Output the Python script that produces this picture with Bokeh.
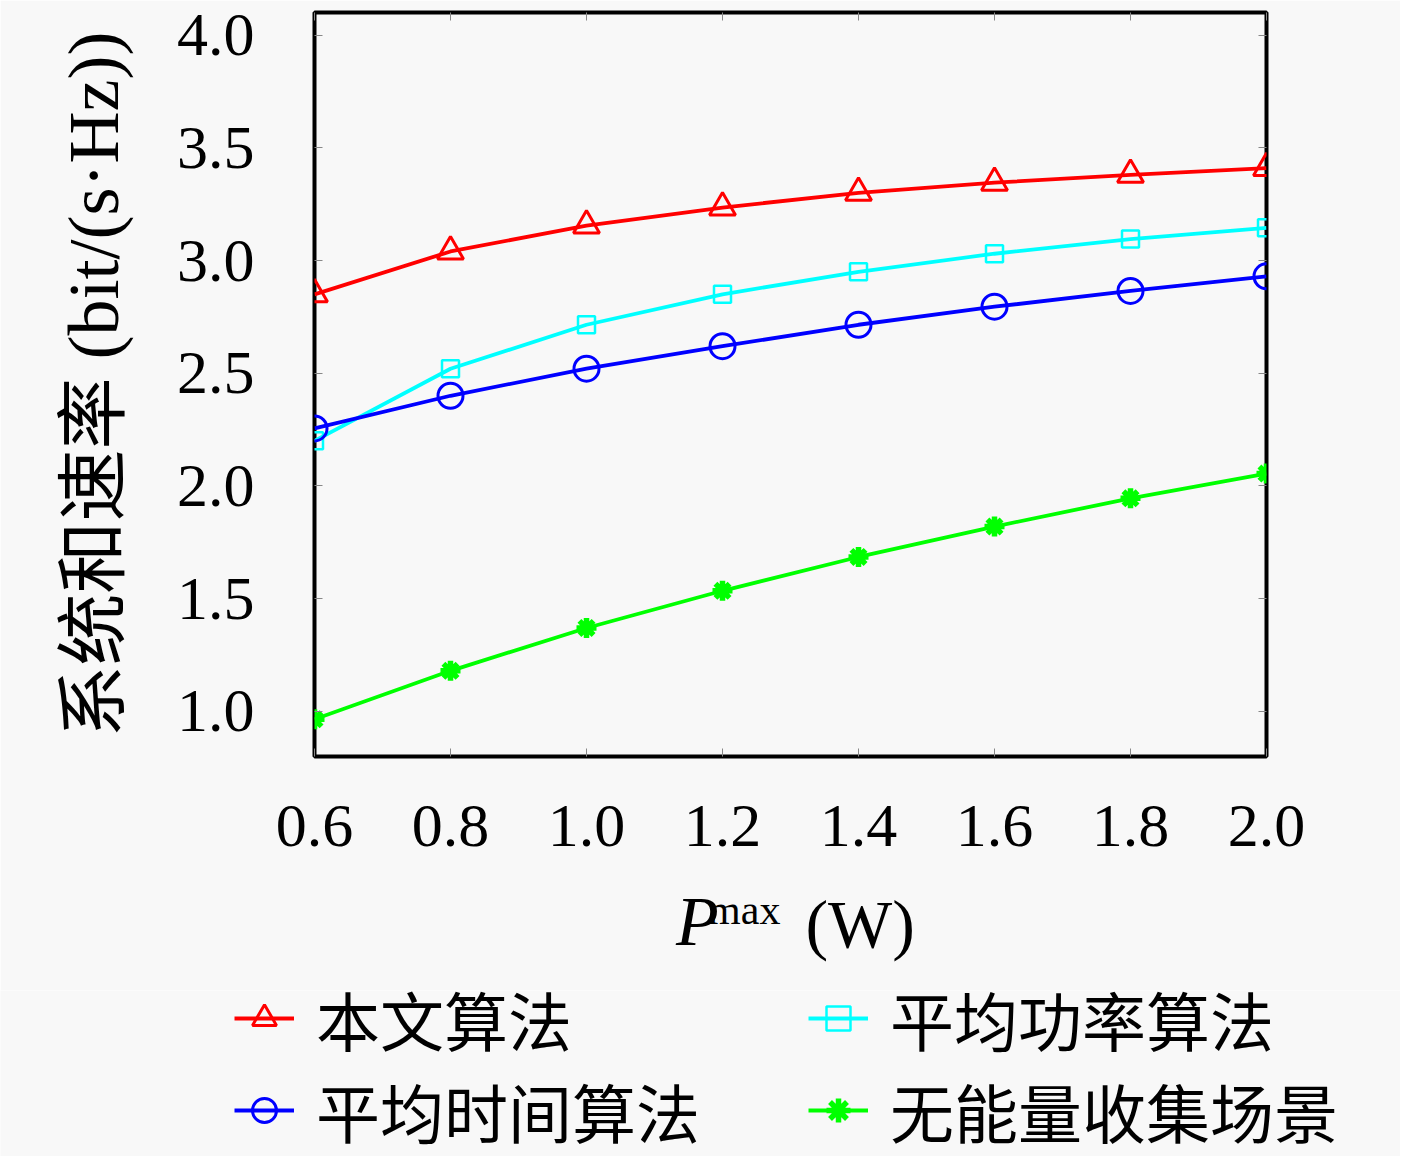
import math
from bokeh.plotting import figure
from bokeh.models import (Range1d, LinearAxis, FixedTicker, Legend, LegendItem,
                          PrintfTickFormatter)
from bokeh.embed import file_html
from bokeh.resources import INLINE

# ---- data ----
p_max = [0.6, 0.8, 1.0, 1.2, 1.4, 1.6, 1.8, 2.0]
proposed = [2.85, 3.04, 3.155, 3.235, 3.30, 3.345, 3.38, 3.41]
avg_power = [2.20, 2.52, 2.715, 2.85, 2.95, 3.03, 3.095, 3.145]
avg_time = [2.255, 2.40, 2.52, 2.62, 2.715, 2.795, 2.865, 2.93]
no_eh = [0.965, 1.18, 1.37, 1.535, 1.685, 1.82, 1.945, 2.055]

names = ["本文算法", "平均功率算法", "平均时间算法", "无能量收集场景"]
x_ticks = [0.6, 0.8, 1.0, 1.2, 1.4, 1.6, 1.8, 2.0]
y_ticks = [1.0, 1.5, 2.0, 2.5, 3.0, 3.5, 4.0]
y_label = "系统和速率 (bit/(s·Hz))"
x_label_parts = ["P", "max", "(W)"]

BG = "#f8f8f8"
SERIF = "Liberation Serif"
CJK = "Noto Sans CJK SC"
MIXED = "'Liberation Serif', 'Noto Sans CJK SC'"

p = figure(width=1400, height=990, output_backend="svg", toolbar_location=None,
           x_range=Range1d(0.6, 2.0), y_range=Range1d(0.8, 4.1),
           min_border_left=314, min_border_right=134, min_border_top=12,
           min_border_bottom=234)
p.background_fill_color = BG
p.border_fill_color = BG
p.outline_line_color = "black"
p.outline_line_width = 4
p.grid.visible = False

for ax in (p.xaxis[0], p.yaxis[0]):
    ax.axis_line_color = None
    ax.major_tick_in = 8
    ax.major_tick_out = 0
    ax.minor_tick_line_color = None
    ax.major_tick_line_color = "#888888"
    ax.major_label_text_font = SERIF
    ax.major_label_text_font_size = "62px"
    ax.major_label_text_color = "black"
    ax.formatter = PrintfTickFormatter(format="%.1f")
p.xaxis[0].ticker = FixedTicker(ticks=x_ticks)
p.yaxis[0].ticker = FixedTicker(ticks=y_ticks)
p.xaxis[0].major_label_standoff = 49
p.yaxis[0].major_label_standoff = 60
p.yaxis[0].axis_label = y_label
p.yaxis[0].axis_label_text_font = MIXED
p.yaxis[0].axis_label_text_font_size = "72px"
p.yaxis[0].axis_label_text_font_style = "normal"
p.yaxis[0].axis_label_text_color = "black"
p.yaxis[0].axis_label_standoff = 40

top = LinearAxis(ticker=FixedTicker(ticks=x_ticks), axis_line_color=None,
                 major_tick_in=8, major_tick_out=0, minor_tick_line_color=None,
                 major_tick_line_color="#888888", major_label_text_font_size="0px",
                 major_label_standoff=0)
right = LinearAxis(ticker=FixedTicker(ticks=y_ticks), axis_line_color=None,
                   major_tick_in=8, major_tick_out=0, minor_tick_line_color=None,
                   major_tick_line_color="#888888", major_label_text_font_size="0px",
                   major_label_standoff=0)
p.add_layout(top, "above")
p.add_layout(right, "right")

styles = [
    ("#ff0000", "triangle", 26, 3),
    ("#00ffff", "square", 17, 2.5),
    ("#0000ff", "circle", 25, 3),
    ("#00ff00", "asterisk", 20, 5.5),
]
for vals, (col, mk, sz, mlw) in zip([proposed, avg_power, avg_time, no_eh], styles):
    p.line(p_max, vals, line_color=col, line_width=3.8)
    p.scatter(p_max, vals, marker=mk, size=sz, line_color=col,
              fill_color=None, line_width=mlw)

# x axis title "P^max (W)" built from label-only axes (horizontal placement in data units)
def label_axis(pos, text, size, style, standoff):
    ax = LinearAxis(ticker=FixedTicker(ticks=[pos]), axis_line_color=None,
                    major_tick_in=0, major_tick_out=0, minor_tick_line_color=None,
                    major_tick_line_color=None, major_label_standoff=standoff,
                    major_label_overrides={pos: text},
                    major_label_text_font=SERIF, major_label_text_font_size=size,
                    major_label_text_font_style=style, major_label_text_color="black")
    p.add_layout(ax, "below")

label_axis(1.163, x_label_parts[0], "70px", "italic", 34)
label_axis(1.232, x_label_parts[1], "42px", "normal", -76)
label_axis(1.4025, x_label_parts[2], "68px", "normal", -77)

# legend panel underneath (legend keys styled like the series)
lg = figure(width=1400, height=166, output_backend="svg", toolbar_location=None,
            x_axis_type=None, y_axis_type=None, min_border=0,
            x_range=Range1d(0, 1), y_range=Range1d(0, 1))
lg.background_fill_color = BG
lg.border_fill_color = BG
lg.outline_line_color = None
lg.grid.visible = False
keys = {}
for nm, (col, mk, sz, mlw) in zip(names, styles):
    ln = lg.line([math.nan], [math.nan], line_color=col, line_width=3.8)
    sc = lg.scatter([math.nan], [math.nan], marker=mk, size=sz, line_color=col,
                    fill_color=None, line_width=mlw)
    keys[nm] = LegendItem(label=nm, renderers=[ln, sc])

# column-major filling: left column = names[0], names[2]; right = names[1], names[3]
legend = Legend(items=[keys[names[0]], keys[names[2]], keys[names[1]], keys[names[3]]],
                ncols=2, location=(234, 0), padding=0, margin=0,
                border_line_color=None, background_fill_alpha=0,
                label_text_font=MIXED, label_text_font_size="64px",
                label_text_color="black", label_text_line_height=1.0,
                label_standoff=22, glyph_width=60, glyph_height=70,
                label_height=74, label_width=492, spacing=-16)
lg.add_layout(legend, "center")

open("out.html", "w").write(file_html([p, lg], INLINE))
